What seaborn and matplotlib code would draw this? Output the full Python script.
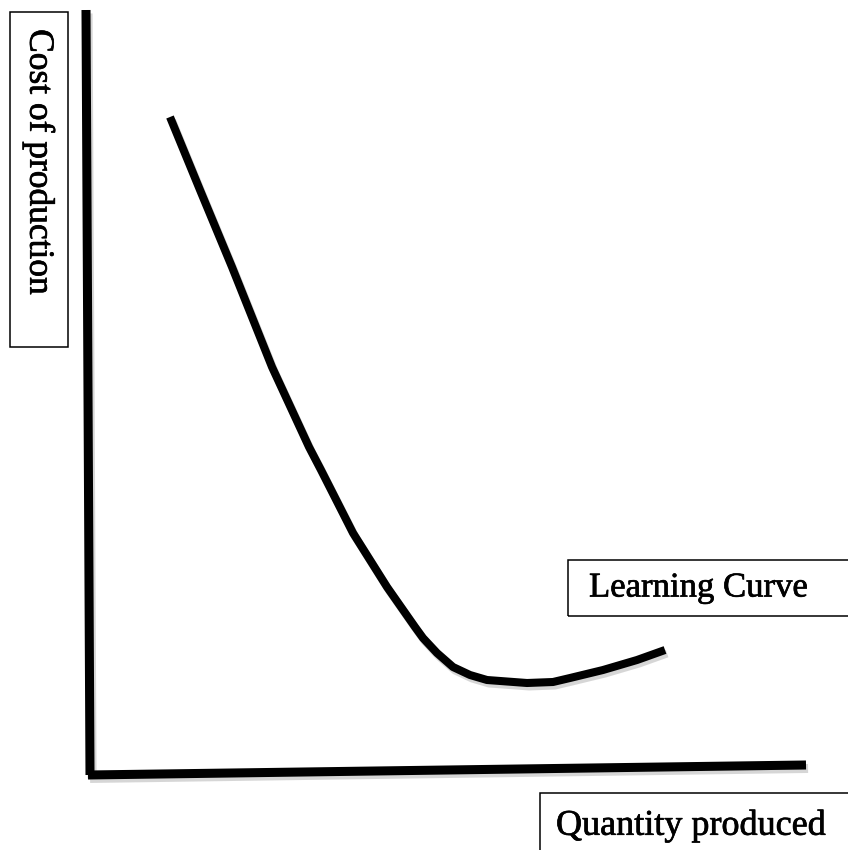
import numpy as np
import pandas as pd
import matplotlib
matplotlib.use("Agg")
import matplotlib.pyplot as plt
import matplotlib.patheffects as pe
from matplotlib.patches import Rectangle
import seaborn as sns

# learning curve (x = quantity, y = cost, pixel-like units)
quantity = [170, 200, 232, 272, 309, 321, 353, 387, 415, 423, 437, 453, 470, 487,
            527, 553, 570, 603, 637, 665]
cost = [733, 660, 583, 483, 403, 380, 317, 263, 223, 212, 197, 183, 175, 170,
        167, 168, 172, 180, 190, 200]

# hand drawn axes
y_axis_x = [86, 90]
y_axis_y = [840, 75]
x_axis_x = [88, 806]
x_axis_y = [75, 85]

labels = {
    "y": "Cost of production",
    "curve": "Learning Curve",
    "x": "Quantity produced",
}

sns.set_style("white")
plt.rcParams["font.family"] = ["Liberation Serif", "DejaVu Serif"]
plt.rcParams["text.color"] = "black"

fig = plt.figure(figsize=(8.48, 8.5), dpi=100)
ax = fig.add_axes([0, 0, 1, 1])
ax.set_xlim(0, 848)
ax.set_ylim(0, 850)
ax.axis("off")

shadow = [pe.SimpleLineShadow(offset=(1.5, -2.5), shadow_color="0.55", alpha=0.35), pe.Normal()]
heavy = [pe.withStroke(linewidth=0.5, foreground="black")]

ax.plot(y_axis_x, y_axis_y, color="black", lw=6.5, solid_capstyle="butt", path_effects=shadow)
ax.plot(x_axis_x, x_axis_y, color="black", lw=6.5, solid_capstyle="butt", path_effects=shadow)

df = pd.DataFrame({"quantity": quantity, "cost": cost})
sns.lineplot(data=df, x="quantity", y="cost", ax=ax, color="black", lw=5.8,
             sort=False, solid_capstyle="butt", solid_joinstyle="round",
             path_effects=shadow)

# label boxes
ax.add_patch(Rectangle((10, 503), 58, 335, fill=False, ec="black", lw=1.1))
ax.text(39, 688, labels["y"], rotation=-90, ha="center", va="center",
        fontsize=25.5, color="black", path_effects=heavy)

ax.add_patch(Rectangle((568, 234), 300, 56, fill=False, ec="black", lw=1.1))
ax.text(589, 262, labels["curve"], ha="left", va="center", fontsize=25,
        color="black", path_effects=heavy)

ax.add_patch(Rectangle((540, -20), 330, 77, fill=False, ec="black", lw=1.1))
ax.text(556, 24, labels["x"], ha="left", va="center", fontsize=26,
        color="black", path_effects=heavy)

fig.savefig("out.png", dpi=100)
